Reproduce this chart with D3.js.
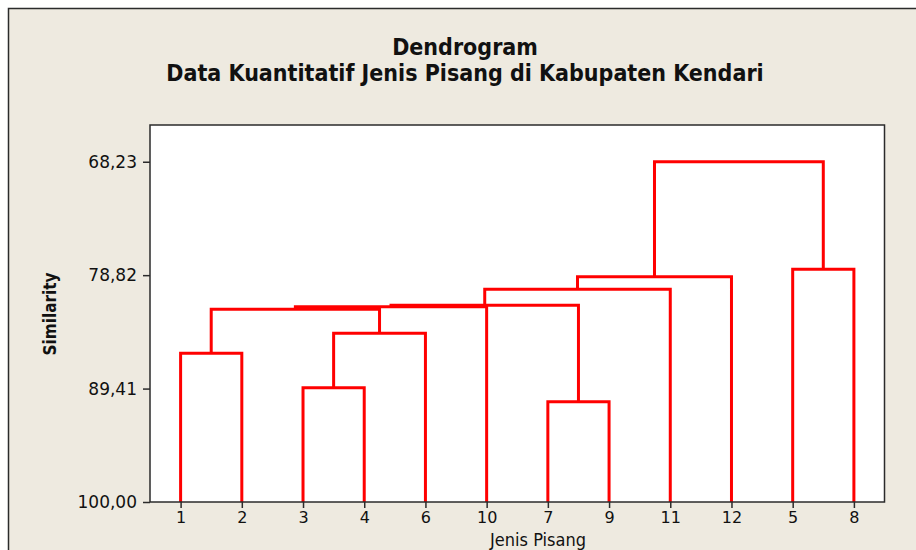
<!DOCTYPE html>
<html>
<head>
<meta charset="utf-8">
<script src="https://cdn.jsdelivr.net/npm/d3@7"></script>
<style>
  body { margin: 0; background: #fff; }
  svg { display: block; }
</style>
</head>
<body>
<div id="chart"></div>
<script>
// Dendrogram, single chart, Minitab-like look

// leaf order along the x axis
const leafLabels = ["1", "2", "3", "4", "6", "10", "7", "9", "11", "12", "5", "8"];
// merge steps: child A, child B, similarity level (cluster "cN" = N-th merge)
const mergeA = ["1", "3", "c2", "c1", "c4", "7", "c5", "c7", "c8", "5", "c9"];
const mergeB = ["2", "4", "6", "c3", "10", "9", "c6", "11", "12", "8", "c10"];
const mergeSim = [86.12, 89.33, 84.25, 82.01, 81.76, 90.63, 81.63, 80.14, 78.96, 78.27, 68.23];
// y axis ticks
const yTicks = [68.23, 78.82, 89.41, 100.00];

const W = 916, H = 550;
const p_l = 150, p_r = 884.5, p_t = 125, p_b = 502; // plot box edges
const bg = "#eeeae0";
const lineCol = "#ff0000";

const svg = d3.select("#chart").append("svg")
  .attr("width", W)
  .attr("height", H);

// outer panel
svg.append("rect")
  .attr("x", 8.5).attr("y", 8.5)
  .attr("width", 1000).attr("height", 1000)
  .attr("fill", bg)
  .attr("stroke", "#2b2b2b")
  .attr("stroke-width", 1.5);

// plot area
svg.append("rect")
  .attr("x", p_l).attr("y", p_t)
  .attr("width", p_r - p_l).attr("height", p_b - p_t)
  .attr("fill", "#fff");

// scales
const xScale = d3.scalePoint()
  .domain(leafLabels)
  .range([p_l, p_r])
  .padding(0.5);

const yScale = d3.scaleLinear()
  .domain([100, 64.8])
  .range([p_b, p_t]);

// build node positions
const nodeX = {}, nodeS = {};
leafLabels.forEach(l => { nodeX[l] = xScale(l); nodeS[l] = 100; });

const links = mergeA.map((a, i) => {
  const b = mergeB[i], s = mergeSim[i];
  const id = "c" + (i + 1);
  nodeX[id] = (nodeX[a] + nodeX[b]) / 2;
  nodeS[id] = s;
  return { a, b, s };
});

const lineGen = d => {
  const p = d3.path();
  p.moveTo(nodeX[d.a], yScale(nodeS[d.a]));
  p.lineTo(nodeX[d.a], yScale(d.s));
  p.lineTo(nodeX[d.b], yScale(d.s));
  p.lineTo(nodeX[d.b], yScale(nodeS[d.b]));
  return p.toString();
};

svg.append("g").selectAll("path")
  .data(links)
  .enter()
  .append("path")
  .attr("d", lineGen)
  .attr("fill", "none")
  .attr("stroke", lineCol)
  .attr("stroke-width", 3)
  .attr("stroke-linejoin", "miter");

// plot border
svg.append("rect")
  .attr("x", p_l).attr("y", p_t)
  .attr("width", p_r - p_l).attr("height", p_b - p_t)
  .attr("fill", "none")
  .attr("stroke", "#2b2b2b")
  .attr("stroke-width", 1.5);

// axes
const fmt = v => d3.format(".2f")(v).replace(".", ",");

const yAxis = svg.append("g")
  .attr("transform", `translate(${p_l} 0)`)
  .call(d3.axisLeft(yScale).tickValues(yTicks).tickFormat(fmt).tickSize(7).tickPadding(6));

const xAxis = svg.append("g")
  .attr("transform", `translate(0 ${p_b})`)
  .call(d3.axisBottom(xScale).tickSize(6).tickPadding(4));

[yAxis, xAxis].forEach(g => {
  g.select(".domain").remove();
  g.selectAll("line").attr("stroke", "#2b2b2b").attr("stroke-width", 1.5);
  g.selectAll("text")
    .attr("fill", "#111")
    .style("font-family", "DejaVu Sans, Verdana, sans-serif")
    .style("font-size", "17px");
});
xAxis.selectAll("text").style("font-size", "16px");

// titles
const title = svg.append("g")
  .style("font-family", "DejaVu Sans Condensed, DejaVu Sans, sans-serif")
  .style("font-weight", "bold")
  .style("font-size", "23px")
  .attr("fill", "#111")
  .attr("text-anchor", "middle");

title.append("text").attr("x", 465).attr("y", 55).text("Dendrogram");
title.append("text").attr("x", 465).attr("y", 81).text("Data Kuantitatif Jenis Pisang di Kabupaten Kendari");

svg.append("text")
  .attr("transform", `translate(56 ${314}) rotate(-90)`)
  .attr("text-anchor", "middle")
  .style("font-family", "DejaVu Sans Condensed, DejaVu Sans, sans-serif")
  .style("font-weight", "bold")
  .style("font-size", "17px")
  .attr("fill", "#111")
  .text("Similarity");

svg.append("text")
  .attr("x", 538)
  .attr("y", 546)
  .attr("text-anchor", "middle")
  .style("font-family", "DejaVu Sans Condensed, DejaVu Sans, sans-serif")
  .style("font-size", "18px")
  .attr("fill", "#111")
  .text("Jenis Pisang");
</script>
</body>
</html>
